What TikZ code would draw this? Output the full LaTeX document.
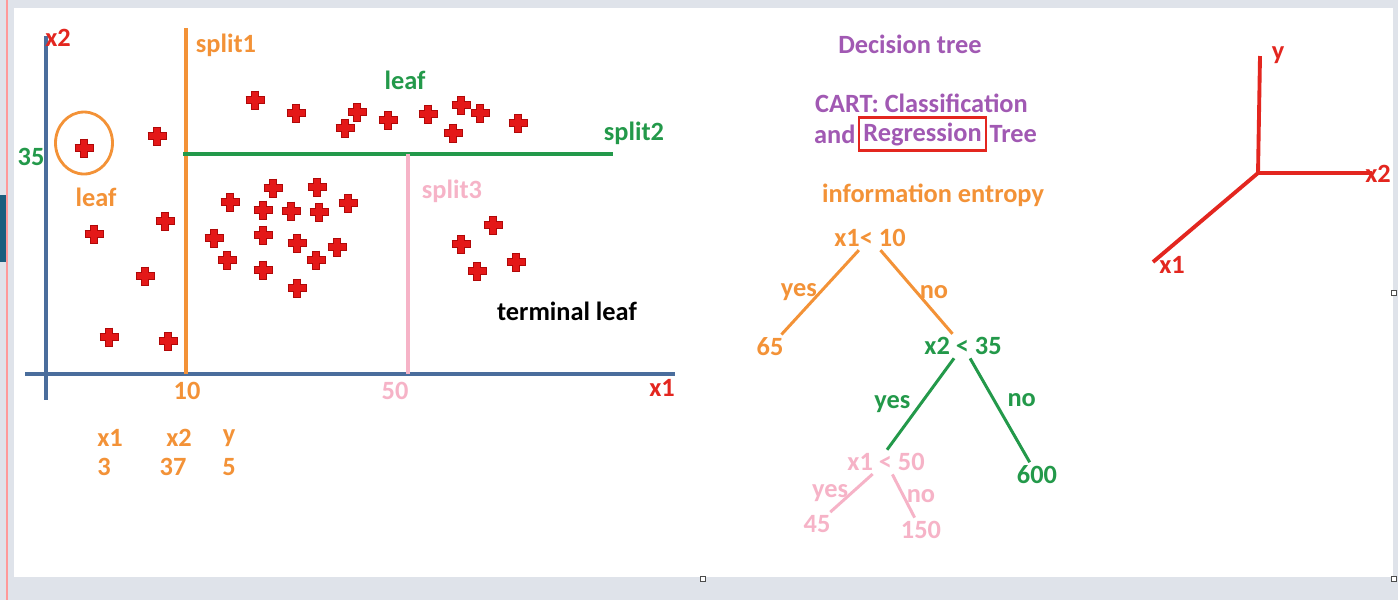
\documentclass[tikz,border=0pt]{standalone}
\usepackage{fontspec}
\setmainfont{Carlito}
\usetikzlibrary{positioning}

\definecolor{bgray}{HTML}{DFE3EA}
\definecolor{axblue}{HTML}{4A6D9C}
\definecolor{lorange}{HTML}{F39237}
\definecolor{lgreen}{HTML}{23994A}
\definecolor{lpink}{HTML}{F6B3C7}
\definecolor{lpurple}{HTML}{A159B3}
\definecolor{lred}{HTML}{E3261F}
\definecolor{dred}{HTML}{B00808}
\definecolor{bred}{HTML}{E41818}
\definecolor{barteal}{HTML}{1B5E7E}

\tikzset{
  txt/.style={inner sep=1pt, font=\fontsize{15}{17}\selectfont\bfseries},
  axis/.style={draw=axblue, line width=2.3pt},
  splitline/.style={line width=1.8pt},
  treeline/.style={line width=1.7pt, shorten <=1pt, shorten >=1pt},
  axis3d/.style={draw=lred, line width=2.2pt},
}

\begin{document}
\begin{tikzpicture}[x=0.02cm, y=-0.02cm]
    \useasboundingbox (0,0) rectangle (1398,600);
    % window around the board
    \fill[bgray] (0,0) rectangle (1398,600);
    \fill[white] (14,8) rectangle (1393,577);
    \fill[barteal] (0,195) rectangle (6,262);
    \draw[red!40, line width=0.8pt] (7,0) -- (7,600);
    \foreach \x/\y in {703/579, 1394/293, 1394/579}
        \draw[black!70, fill=white, line width=0.4pt] (\x-2.5,\y-2.5) rectangle (\x+2.5,\y+2.5);

    % scatter plot
    \coordinate (O) at (46,374);
    \coordinate (ytop) at (46,36);
    \coordinate (ybot) at (46,400);
    \coordinate (xleft) at (25,374);
    \coordinate (xright) at (675,374);
    \draw[axis] (ytop) -- (ybot);
    \draw[axis] (xleft) -- (xright);

    \coordinate (s1a) at (186,28);
    \coordinate (s1b) at (186,374);
    \coordinate (s2a) at (183,154);
    \coordinate (s2b) at (613,154);
    \coordinate (s3a) at (408,154);
    \coordinate (s3b) at (408,374);
    \draw[splitline, lorange] (s1a) -- (s1b);
    \draw[splitline, lgreen] (s2a) -- (s2b);
    \draw[splitline, lpink] (s3a) -- (s3b);

    \draw[lorange, line width=1.6pt] (84,143) ellipse [x radius=28.5, y radius=31];

    \foreach \x/\y in {255/100, 296/113, 357/112, 345/128, 388/120, 428/114, 461/105, 453/133, 480/113, 518/123,
                       84/148, 157/136, 94/234, 165/221, 145/276, 109/337, 168/341,
                       230/202, 273/188, 317/187, 348/203, 263/210, 291/211, 319/212, 214/238, 263/235,
                       297/243, 337/247, 227/260, 263/270, 316/260, 297/288,
                       461/244, 493/225, 477/271, 516/262}
    {
        \draw[dred, line width=4.4pt] (\x-9.5,\y) -- (\x+9.5,\y) (\x,\y-9.5) -- (\x,\y+9.5);
        \draw[bred, line width=3.2pt] (\x-8.5,\y) -- (\x+8.5,\y) (\x,\y-8.5) -- (\x,\y+8.5);
    }

    \node[txt, text=lred] (lx2) at (58,38) {x2};
    \node[txt, text=lgreen] (l35) at (31,157) {35};
    \node[txt, text=lorange] (lsplit1) at (226,45) {split1};
    \node[txt, text=lgreen] (lsplit2) at (634,133) {split2};
    \node[txt, text=lpink] (lsplit3) at (452,191) {split3};
    \node[txt, text=lgreen] (leaftop) at (405,80) {leaf};
    \node[txt, text=lorange] (leafleft) at (96,197) {leaf};
    \node[txt, text=lorange] (l10) at (187,391) {10};
    \node[txt, text=lpink] (l50) at (395,391) {50};
    \node[txt, text=lred] (lx1) at (662,388) {x1};
    \node[txt, text=black] (term) at (567,311) {terminal leaf};

    \node[txt, text=lorange] (hx1) at (110,438) {x1};
    \node[txt, text=lorange] (hx2) at (179,438) {x2};
    \node[txt, text=lorange] (hy) at (229,438) {y};
    \node[txt, text=lorange] (vx1) at (104,467) {3};
    \node[txt, text=lorange] (vx2) at (173,467) {37};
    \node[txt, text=lorange] (vy) at (229,467) {5};

    % titles
    \node[txt, text=lpurple] (title) at (910,44) {Decision tree};
    \node[txt, text=lpurple, anchor=west] (cart) at (813,103) {CART: Classification};
    \node[txt, text=lpurple, anchor=west] (and) at (812,134) {and};
    \node[txt, text=lpurple, draw=lred, line width=1.6pt, inner xsep=2.5pt, inner ysep=3pt,
          right=0pt of and] (reg) {Regression};
    \node[txt, text=lpurple, right=0pt of reg] (tree) {Tree};
    \node[txt, text=lorange] (entropy) at (933,195) {information entropy};

    % regression tree
    \node[txt, text=lorange] (r) at (870,238) {x1< 10};
    \node[txt, text=lorange] (n65) at (770,347) {65};
    \node[txt, text=lgreen] (n2) at (963,346) {x2 < 35};
    \node[txt, text=lpink] (n3) at (886,462) {x1 < 50};
    \node[txt, text=lgreen] (n600) at (1037,475) {600};
    \node[txt, text=lpink] (n45) at (817,524) {45};
    \node[txt, text=lpink] (n150) at (921,530) {150};

    \path [treeline, lorange] (r) edge node[txt, left, text=lorange] {yes} (n65);
    \path [treeline, lorange] (r) edge node[txt, right, text=lorange] {no} (n2);
    \path [treeline, lgreen] (n2) edge node[txt, left=4pt, text=lgreen] {yes} (n3.north);
    \path [treeline, lgreen] (n2) edge node[txt, pos=0.4, right=6pt, text=lgreen] {no} (n600);
    \path [treeline, lpink] (n3) edge node[txt, left, text=lpink] {yes} (n45);
    \path [treeline, lpink] (n3) edge node[txt, right, text=lpink] {no} (n150);

    % 3d axes
    \coordinate (o3) at (1258,173);
    \coordinate (ytip) at (1260,56);
    \coordinate (x2tip) at (1372,173);
    \coordinate (x1tip) at (1153,262);
    \draw[axis3d] (o3) -- (ytip);
    \draw[axis3d] (o3) -- (x2tip);
    \draw[axis3d] (o3) -- (x1tip);
    \node[txt, text=lred] (ly) at (1278,55) {y};
    \node[txt, text=lred] (lz2) at (1378,174) {x2};
    \node[txt, text=lred] (lz1) at (1172,265) {x1};
\end{tikzpicture}
\end{document}
